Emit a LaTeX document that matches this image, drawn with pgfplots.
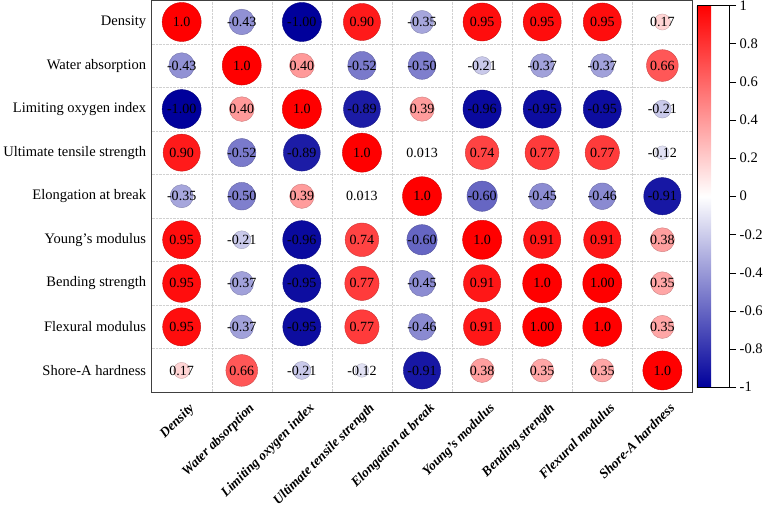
\documentclass[border=0pt]{standalone}
\usepackage{fontspec}
\setmainfont{Liberation Serif}
\usepackage{pgfplots}
\usepackage{pgfplotstable}
\pgfplotsset{compat=1.18}

% Pearson correlation matrix: column index x, row index y, coefficient r, printed label
\pgfplotstableread{
x y r lbl
0 0 1.0 1.0
1 0 -0.43 -0.43
2 0 -1.00 -1.00
3 0 0.90 0.90
4 0 -0.35 -0.35
5 0 0.95 0.95
6 0 0.95 0.95
7 0 0.95 0.95
8 0 0.17 0.17
0 1 -0.43 -0.43
1 1 1.0 1.0
2 1 0.40 0.40
3 1 -0.52 -0.52
4 1 -0.50 -0.50
5 1 -0.21 -0.21
6 1 -0.37 -0.37
7 1 -0.37 -0.37
8 1 0.66 0.66
0 2 -1.00 -1.00
1 2 0.40 0.40
2 2 1.0 1.0
3 2 -0.89 -0.89
4 2 0.39 0.39
5 2 -0.96 -0.96
6 2 -0.95 -0.95
7 2 -0.95 -0.95
8 2 -0.21 -0.21
0 3 0.90 0.90
1 3 -0.52 -0.52
2 3 -0.89 -0.89
3 3 1.0 1.0
4 3 0.013 0.013
5 3 0.74 0.74
6 3 0.77 0.77
7 3 0.77 0.77
8 3 -0.12 -0.12
0 4 -0.35 -0.35
1 4 -0.50 -0.50
2 4 0.39 0.39
3 4 0.013 0.013
4 4 1.0 1.0
5 4 -0.60 -0.60
6 4 -0.45 -0.45
7 4 -0.46 -0.46
8 4 -0.91 -0.91
0 5 0.95 0.95
1 5 -0.21 -0.21
2 5 -0.96 -0.96
3 5 0.74 0.74
4 5 -0.60 -0.60
5 5 1.0 1.0
6 5 0.91 0.91
7 5 0.91 0.91
8 5 0.38 0.38
0 6 0.95 0.95
1 6 -0.37 -0.37
2 6 -0.95 -0.95
3 6 0.77 0.77
4 6 -0.45 -0.45
5 6 0.91 0.91
6 6 1.0 1.0
7 6 1.00 1.00
8 6 0.35 0.35
0 7 0.95 0.95
1 7 -0.37 -0.37
2 7 -0.95 -0.95
3 7 0.77 0.77
4 7 -0.46 -0.46
5 7 0.91 0.91
6 7 1.00 1.00
7 7 1.0 1.0
8 7 0.35 0.35
0 8 0.17 0.17
1 8 0.66 0.66
2 8 -0.21 -0.21
3 8 -0.12 -0.12
4 8 -0.91 -0.91
5 8 0.38 0.38
6 8 0.35 0.35
7 8 0.35 0.35
8 8 1.0 1.0
}\corr

\begin{document}
\begin{tikzpicture}
\begin{axis}[
  scale only axis,
  width=538bp, height=390bp,
  xmin=-0.5, xmax=8.5, ymin=-0.5, ymax=8.5,
  y dir=reverse,
  axis line style={black!75},
  xtick={0,...,8}, ytick={0,...,8},
  xticklabels={Density, Water absorption, Limiting oxygen index, Ultimate tensile strength, Elongation at break, Young’s modulus, Bending strength, Flexural modulus, Shore-A hardness},
  yticklabels={Density, Water absorption, Limiting oxygen index, Ultimate tensile strength, Elongation at break, Young’s modulus, Bending strength, Flexural modulus, Shore-A hardness},
  major tick length=0pt, minor tick length=0pt,
  minor xtick={0.5,1.5,...,7.5}, minor ytick={0.5,1.5,...,7.5},
  xminorgrids, yminorgrids,
  minor grid style={densely dotted, black!18},
  yticklabel style={font=\fontsize{14.5}{16}\selectfont, xshift=-2bp},
  xticklabel style={font=\fontsize{13.5}{15}\selectfont\bfseries\itshape, rotate=45, anchor=north east, xshift=1bp, yshift=-8bp},
  colormap={rwb}{rgb255(0cm)=(0,0,155); rgb255(1cm)=(255,255,255); rgb255(2cm)=(255,0,0)},
  point meta min=-1, point meta max=1,
  colorbar,
  colorbar style={
    scale only axis,
    at={(parent axis.east)}, anchor=west, xshift=-4bp,
    width=32bp, height=380bp,
    axis line style={black},
    ytick={-1,-0.8,-0.6,-0.4,-0.2,0,0.2,0.4,0.6,0.8,1},
    yticklabels={-1,-0.8,-0.6,-0.4,-0.2,0,0.2,0.4,0.6,0.8,1},
    ytick pos=right, yticklabel pos=right,
    major tick length=7bp, tick align=outside,
    major tick style={black},
    yticklabel style={font=\fontsize{14.5}{16}\selectfont, inner ysep=0pt},
  },
]
% circles: colour from r, area proportional to |r|
\addplot[
  scatter, only marks, mark=*,
  point meta=explicit,
  scatter/@pre marker code/.append style={/tikz/mark size={19.5*sqrt(abs(\pgfplotspointmetatransformed-500)/500)}},
] table[x=x, y=y, meta=r] {\corr};
% printed coefficients
\addplot[
  only marks, mark=none,
  point meta=explicit symbolic,
  nodes near coords={\pgfplotspointmeta},
  nodes near coords align={center},
  every node near coord/.append style={text=black, anchor=center, font=\fontsize{14}{16}\selectfont},
] table[x=x, y=y, meta=lbl] {\corr};
\end{axis}
\end{tikzpicture}
\end{document}
